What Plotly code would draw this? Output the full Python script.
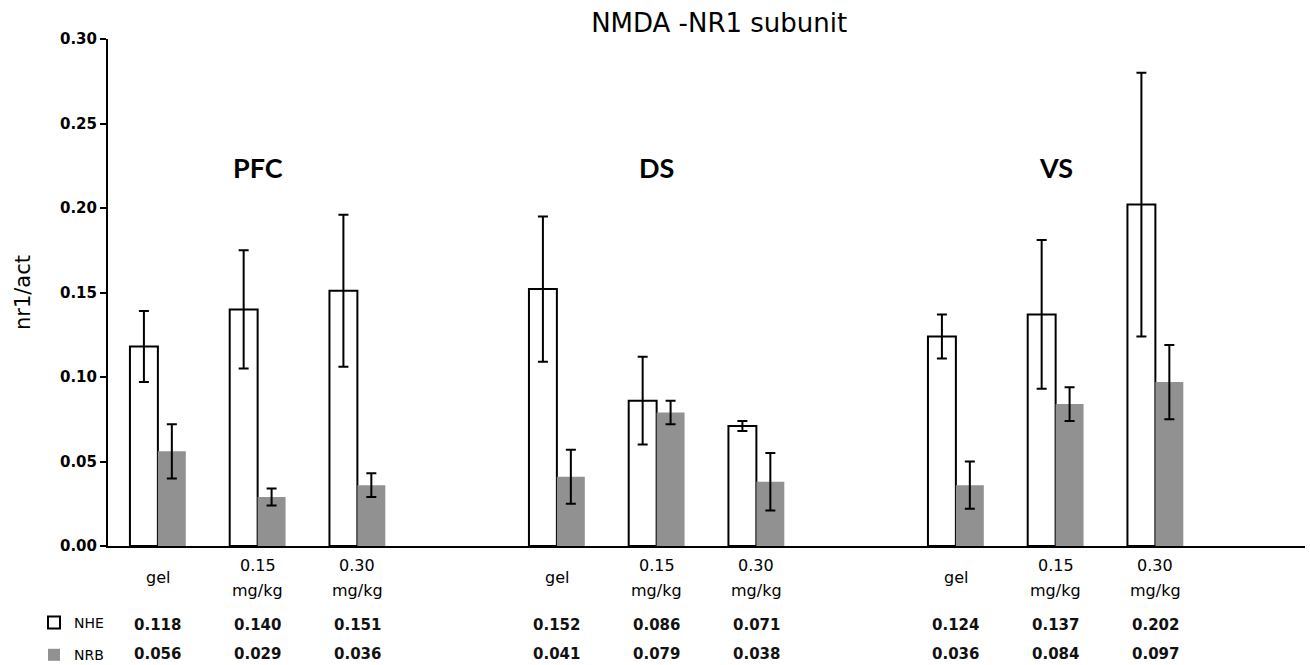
import plotly.graph_objects as go

# ---- data ----
regions = ["PFC", "DS", "VS"]
doses = ["gel", "0.15\nmg/kg", "0.30\nmg/kg"]
x_pos = [0, 1, 2, 4, 5, 6, 8, 9, 10]          # category slots (gaps between regions)
nhe = [0.118, 0.140, 0.151, 0.152, 0.086, 0.071, 0.124, 0.137, 0.202]
nrb = [0.056, 0.029, 0.036, 0.041, 0.079, 0.038, 0.036, 0.084, 0.097]
nhe_err = [0.021, 0.035, 0.045, 0.043, 0.026, 0.003, 0.013, 0.044, 0.078]
nrb_err = [0.016, 0.005, 0.007, 0.016, 0.007, 0.017, 0.014, 0.010, 0.022]
y_ticks = [0.00, 0.05, 0.10, 0.15, 0.20, 0.25, 0.30]

FONT = "DejaVu Sans"
GRAY = "#919191"

fig = go.Figure()
fig.add_trace(go.Bar(
    x=x_pos, y=nhe, name="NHE", legendgroup="a",
    marker=dict(color="white", line=dict(color="black", width=2)),
    error_y=dict(type="data", array=nhe_err, color="black", thickness=2, width=5),
))
fig.add_trace(go.Bar(
    x=x_pos, y=nrb, name="NRB", legendgroup="b",
    marker=dict(color=GRAY, line=dict(color=GRAY, width=0)),
    error_y=dict(type="data", array=nrb_err, color="black", thickness=2, width=5),
))

PLOT_TOP, PLOT_BOT = 39, 546
H = PLOT_BOT - PLOT_TOP
def py(px):
    return (PLOT_BOT - px) / H

ann = []
# region labels above middle dose of each group
for gi, reg in enumerate(regions):
    ann.append(dict(x=x_pos[gi * 3 + 1], y=0.224, xref="x", yref="y", text="<b>%s</b>" % reg,
                    showarrow=False, font=dict(family="Lato", size=27, color="black")))
# category labels and data table
for i, xp in enumerate(x_pos):
    lines = doses[i % 3].split("\n")
    if len(lines) == 1:
        ann.append(dict(x=xp, y=py(577), xref="x", yref="paper", text=lines[0], showarrow=False,
                        font=dict(family=FONT, size=16, color="black"), yanchor="middle"))
    else:
        for li, t in enumerate(lines):
            ann.append(dict(x=xp, y=py(565 + 25 * li), xref="x", yref="paper", text=t, showarrow=False,
                            font=dict(family=FONT, size=16, color="black"), yanchor="middle"))
    ann.append(dict(x=xp, y=py(625), xref="x", yref="paper", text="<b>%.3f</b>" % nhe[i], showarrow=False,
                    font=dict(family=FONT, size=15, color="#111"), yanchor="middle"))
    ann.append(dict(x=xp, y=py(654), xref="x", yref="paper", text="<b>%.3f</b>" % nrb[i], showarrow=False,
                    font=dict(family=FONT, size=15, color="#111"), yanchor="middle"))

fig.update_layout(
    width=1310, height=665, autosize=False,
    margin=dict(l=108, r=5, t=PLOT_TOP, b=665 - PLOT_BOT, autoexpand=False),
    paper_bgcolor="white", plot_bgcolor="white",
    barmode="group", bargap=0.44, bargroupgap=0,
    title=dict(text="NMDA -NR1 subunit", x=0.549, xanchor="center", y=1 - 23 / 665, yanchor="middle",
               font=dict(family=FONT, size=26, color="black")),
    font=dict(family=FONT, color="black"),
    showlegend=True,
    legend=dict(x=(34 - 108) / 1197, xanchor="left", y=py(607), yanchor="top",
                font=dict(family=FONT, size=14), tracegroupgap=11, bgcolor="rgba(0,0,0,0)",
                itemwidth=30),
    annotations=ann,
)
fig.update_xaxes(range=[-0.5, 11.5], showticklabels=False, ticks="", showgrid=False,
                 zeroline=False, showline=True, linecolor="black", linewidth=2)
fig.update_yaxes(range=[0, 0.30], tickvals=y_ticks, tickformat=".2f", ticks="outside",
                 ticklen=6, tickwidth=1.5, tickcolor="black", showgrid=False, zeroline=False,
                 showline=True, linecolor="black", linewidth=2,
                 tickfont=dict(family=FONT, size=15, color="black", weight="bold"),
                 title=dict(text="nr1/act", font=dict(family=FONT, size=21, color="black"), standoff=24))

fig.write_html("out.html")
